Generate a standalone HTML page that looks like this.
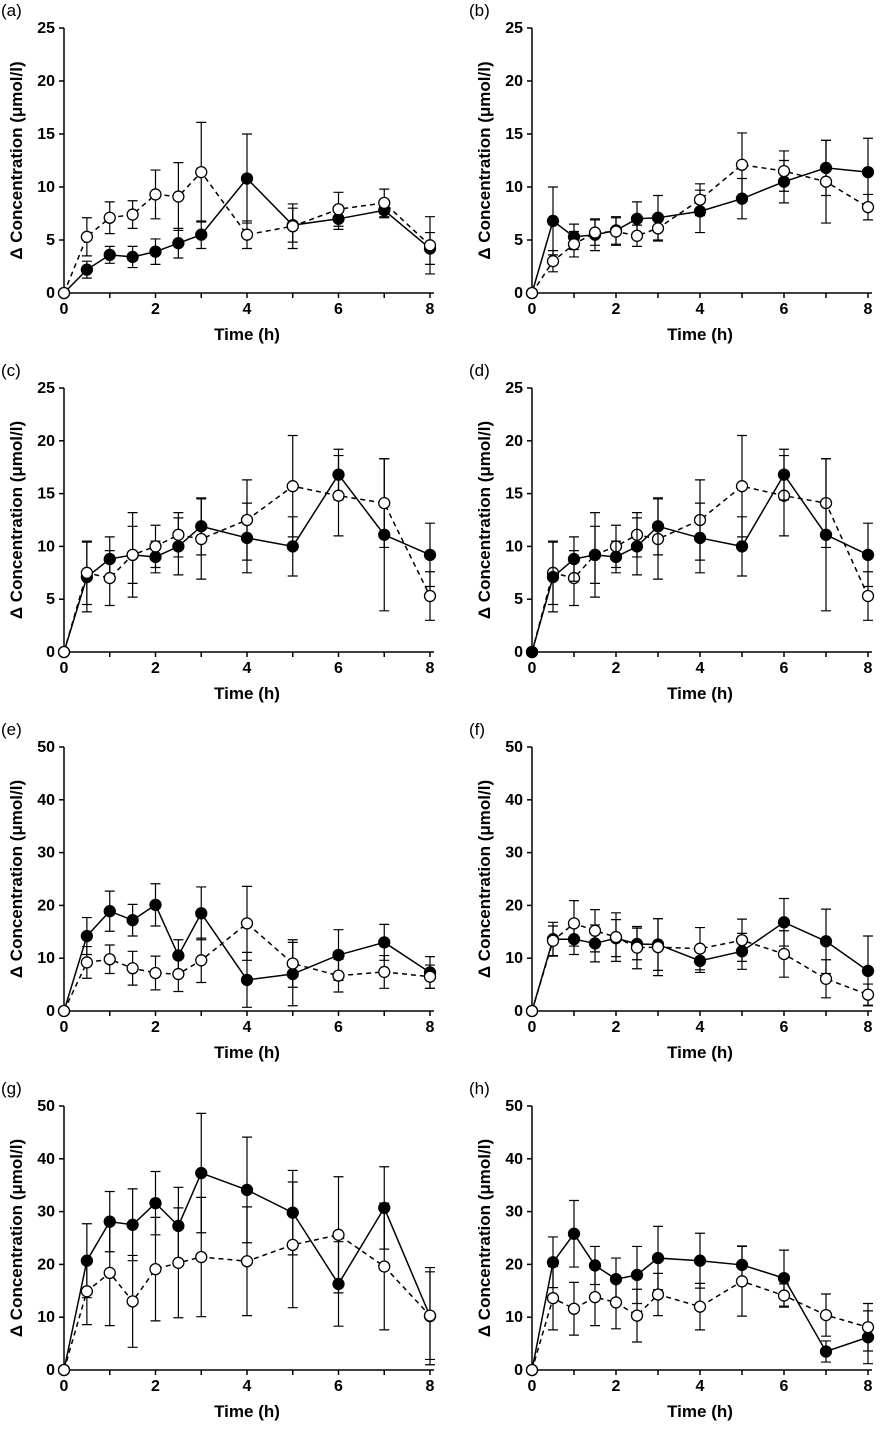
<!DOCTYPE html>
<html><head><meta charset="utf-8"><style>
body{margin:0;background:#fff}
svg{display:block}
text{font-family:"Liberation Sans",sans-serif}
</style></head><body>
<svg id="fig" width="881" height="1446" viewBox="0 0 881 1446"></svg>
<script>
const times=[0,0.5,1,1.5,2,2.5,3,4,5,6,7,8];
const xTicks=[0,2,4,6,8];
const yTicks25=[0,5,10,15,20,25];
const yTicks50=[0,10,20,30,40,50];
const panelLabels=["(a)","(b)","(c)","(d)","(e)","(f)","(g)","(h)"];
const aFilled=[0,2.2,3.6,3.4,3.9,4.7,5.5,10.8,6.4,7.0,7.8,4.2];
const aFilledErr=[0,0.8,0.8,1,1.2,1.4,1.3,4.2,1.6,1,0.7,1.5];
const aOpen=[0,5.3,7.1,7.4,9.3,9.1,11.4,5.5,6.3,7.9,8.5,4.5];
const aOpenErr=[0,1.8,1.5,1.3,2.3,3.2,4.7,1.3,2.1,1.6,1.3,2.7];
const bFilled=[0,6.8,5.3,5.5,5.9,7.0,7.1,7.7,8.9,10.5,11.8,11.4];
const bFilledErr=[0,3.2,1.2,1.5,1.3,1.6,2.1,2.0,1.9,2,2.6,3.2];
const bOpen=[0,3.0,4.6,5.7,5.8,5.4,6.1,8.8,12.1,11.5,10.5,8.1];
const bOpenErr=[0,1,1.2,1.2,1.3,1,1.2,1.5,3,1.9,3.9,1.2];
const cFilled=[0,7.1,8.8,9.2,9.0,10.0,11.9,10.8,10.0,16.8,11.1,9.2];
const cFilledErr=[0,3.3,2.1,2.7,1.5,2.7,2.7,3.3,2.8,2.4,7.2,3];
const cOpen=[0,7.5,7.0,9.2,10.0,11.1,10.7,12.5,15.7,14.8,14.1,5.3];
const cOpenErr=[0,3.0,2.6,4.0,2.0,2.1,3.8,3.8,4.8,3.8,4.2,2.3];
const eFilled=[0,14.2,18.9,17.2,20.1,10.5,18.5,5.9,7.0,10.6,13.0,7.3];
const eFilledErr=[0,3.5,3.8,3,4,3,5,5.2,6,4.8,3.4,3];
const eOpen=[0,9.2,9.8,8.1,7.2,7.0,9.6,16.6,9.0,6.7,7.4,6.5];
const eOpenErr=[0,3,2.7,3.2,3.2,3.3,4.2,7,4.5,3.1,3.1,2.2];
const fFilled=[0,13.6,13.6,12.8,13.8,12.7,12.6,9.5,11.3,16.8,13.2,7.6];
const fFilledErr=[0,3.2,2.9,3.5,3.5,3,4.9,2.2,3.4,4.5,6.1,6.6];
const fOpen=[0,13.3,16.6,15.2,14.0,12.0,12.1,11.8,13.4,10.8,6.1,3.1];
const fOpenErr=[0,2.8,4.3,4,4.6,4,5.4,4,4,4.4,3.6,2];
const gFilled=[0,20.7,28.1,27.5,31.6,27.3,37.3,34.1,29.8,16.3,30.7,10.2];
const gFilledErr=[0,7,5.7,6.8,6,7.3,11.3,10,8,8,7.8,9.2];
const gOpen=[0,14.9,18.4,13.0,19.1,20.3,21.4,20.6,23.7,25.6,19.6,10.3];
const gOpenErr=[0,6.3,10,8.7,9.8,10.4,11.3,10.3,11.9,11,12,8.3];
const hFilled=[0,20.4,25.8,19.8,17.2,18.0,21.2,20.7,19.9,17.4,3.5,6.2];
const hFilledErr=[0,4.8,6.3,3.6,4,5.4,6,5.2,3.6,5.3,2,5];
const hOpen=[0,13.6,11.6,13.8,12.8,10.3,14.3,12.0,16.8,14.1,10.4,8.1];
const hOpenErr=[0,6,5,5.4,5,5,4,4.4,6.6,2.2,4,4.5];

const panels=[
 {x0:64,x8:430,y0:293,yT:28,yTicks:yTicks25,f:aFilled,fe:aFilledErr,o:aOpen,oe:aOpenErr,filledTop:false},
 {x0:532,x8:868,y0:293,yT:28,yTicks:yTicks25,f:bFilled,fe:bFilledErr,o:bOpen,oe:bOpenErr,filledTop:false},
 {x0:64,x8:430,y0:652,yT:388,yTicks:yTicks25,f:cFilled,fe:cFilledErr,o:cOpen,oe:cOpenErr,filledTop:false},
 {x0:532,x8:868,y0:652,yT:388,yTicks:yTicks25,f:cFilled,fe:cFilledErr,o:cOpen,oe:cOpenErr,filledTop:true},
 {x0:64,x8:430,y0:1011,yT:747,yTicks:yTicks50,f:eFilled,fe:eFilledErr,o:eOpen,oe:eOpenErr,filledTop:false},
 {x0:532,x8:868,y0:1011,yT:747,yTicks:yTicks50,f:fFilled,fe:fFilledErr,o:fOpen,oe:fOpenErr,filledTop:false},
 {x0:64,x8:430,y0:1370,yT:1106,yTicks:yTicks50,f:gFilled,fe:gFilledErr,o:gOpen,oe:gOpenErr,filledTop:false},
 {x0:532,x8:868,y0:1370,yT:1106,yTicks:yTicks50,f:hFilled,fe:hFilledErr,o:hOpen,oe:hOpenErr,filledTop:false}
];
const svg=document.getElementById('fig');
const NS='http://www.w3.org/2000/svg';
function el(tag,attrs,parent){const e=document.createElementNS(NS,tag);for(const k in attrs)e.setAttribute(k,attrs[k]);parent.appendChild(e);return e;}
panels.forEach((p,i)=>{
 const g=el('g',{},svg);
 
 
 const ymax=p.yTicks[p.yTicks.length-1];
 const X=t=>p.x0+(p.x8-p.x0)*t/8;
 const Y=v=>p.y0-(p.y0-p.yT)*v/ymax;
 const lab=el('text',{x:p.x0-63,y:p.yT-12,'font-size':17},g);lab.textContent=panelLabels[i];
 
 const ax=el('path',{d:`M${p.x0} ${p.yT}V${p.y0}H${p.x8+4}`,stroke:'#000','stroke-width':1.5,fill:'none'},g);
 
 for(let t=0;t<=8;t++){el('line',{x1:X(t),x2:X(t),y1:p.y0,y2:p.y0+5,stroke:'#000','stroke-width':1.5},g);}
 xTicks.forEach(t=>{const tx=el('text',{x:X(t),y:p.y0+21,'font-size':16,'font-weight':'bold','text-anchor':'middle'},g);tx.textContent=t;
  });
 p.yTicks.forEach(v=>{el('line',{x1:p.x0-5,x2:p.x0,y1:Y(v),y2:Y(v),stroke:'#000','stroke-width':1.5},g);
  const ty=el('text',{x:p.x0-9,y:Y(v)+5,'font-size':16,'font-weight':'bold','text-anchor':'end'},g);ty.textContent=v;
  });
 const xt=el('text',{x:(p.x0+p.x8)/2,y:p.y0+47,'font-size':17,'font-weight':'bold','text-anchor':'middle'},g);xt.textContent='Time (h)';
 
 const cy=(p.y0+p.yT)/2;
 const yt=el('text',{x:p.x0-42,y:cy,'font-size':17,'font-weight':'bold','text-anchor':'middle',transform:`rotate(-90 ${p.x0-42} ${cy})`},g);yt.textContent='Δ Concentration (μmol/l)';
 
 const order=p.filledTop?[[p.o,p.oe,true],[p.f,p.fe,false]]:[[p.f,p.fe,false],[p.o,p.oe,true]];
 order.forEach(([vals,errs,open])=>{
  const sg=el('g',{},g);
  
  
  vals.forEach((v,k)=>{const e=errs[k];if(!e)return;const x=X(times[k]);
   el('path',{d:`M${x} ${Y(v-e)}V${Y(v+e)}M${x-5} ${Y(v-e)}H${x+5}M${x-5} ${Y(v+e)}H${x+5}`,stroke:'#000','stroke-width':1.2,fill:'none'},sg);});
  el('polyline',{points:vals.map((v,k)=>X(times[k])+','+Y(v)).join(' '),fill:'none',stroke:'#000','stroke-width':1.5,'stroke-dasharray':open?'5,4':'none'},sg);
  vals.forEach((v,k)=>{const c=el('circle',{cx:X(times[k]),cy:Y(v),r:5.5,fill:open?'#fff':'#000',stroke:'#000','stroke-width':1.3},sg);
   });
 });
});
</script>
</body></html>
